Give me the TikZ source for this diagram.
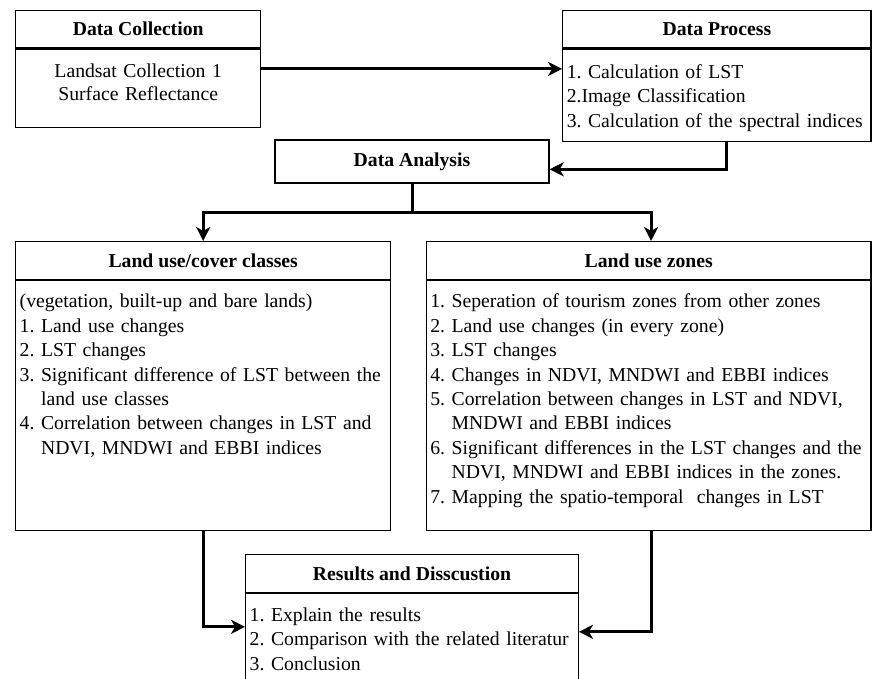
\documentclass[tikz,border=0pt]{standalone}
\usepackage{fontspec}
\setmainfont{Liberation Serif}
\usetikzlibrary{arrows.meta,positioning,calc}
\frenchspacing
\hyphenpenalty=10000

\tikzset{
    head/.style={draw, line width=1.3pt, font=\fontsize{19.7}{24}\selectfont\bfseries,
        minimum height=37.5pt, inner sep=0pt},
    body/.style={draw, line width=1.3pt, font=\fontsize{19.7}{24.4}\selectfont,
        align=left, inner xsep=4pt, inner ysep=0pt},
    arr/.style={line width=3pt, -{Stealth[length=14pt,width=14pt,inset=4pt]}}
}

\begin{document}
\begin{tikzpicture}[x=1pt,y=-1pt]
    \useasboundingbox (0,0) rectangle (872,678);
    \clip (0,0) rectangle (872,678);

    % Data Collection
    \node[head, minimum width=245] (dchead) at (138.2,28.9) {Data Collection};
    \node[body, text width=237pt, align=center, text height=29pt, text depth=49.3pt,
        font=\fontsize{19.7}{23}\selectfont, below=0pt of dchead] (dc) {Landsat Collection 1\\Surface Reflectance};

    % Data Process
    \node[head, minimum width=308.3] (dphead) at (716.9,28.9) {Data Process};
    \node[body, text width=300.3pt, text height=29.3pt, text depth=63pt,
        below=0pt of dphead] (dp) {1. Calculation of LST\\2.Image Classification\\3. Calculation of the spectral indices};

    % Data Analysis
    \node[head, minimum width=274, minimum height=43] (da) at (412,161.5) {Data Analysis};

    % Land use/cover classes
    \node[head, minimum width=375] (luchead) at (203.2,260.4) {Land use/cover classes};
    \node[body, text width=367pt, text height=27.5pt, text depth=222.8pt,
        below=0pt of luchead] (luc) {(vegetation, built-up and bare lands)\\
        1. Land use changes\\
        2. LST changes\\
        3. Significant difference of LST between the\\
        \hphantom{3. }land use classes\\
        4. Correlation between changes in LST and\\
        \hphantom{4. }NDVI, MNDWI and EBBI indices};

    % Land use zones
    \node[head, minimum width=444.7] (luzhead) at (648.7,260.4) {Land use zones};
    \node[body, text width=436.7pt, text height=27.5pt, text depth=222.8pt,
        below=0pt of luzhead] (luz) {1. Seperation of tourism zones from other zones\\
        2. Land use changes (in every zone)\\
        3. LST changes\\
        4. Changes in NDVI, MNDWI and EBBI indices\\
        5. Correlation between changes in LST and NDVI,\\
        \hphantom{5. }MNDWI and EBBI indices\\
        6. Significant differences in the LST changes and the\\
        \hphantom{6. }NDVI, MNDWI and EBBI indices in the zones.\\
        7. Mapping the spatio-temporal\ \ changes in LST};

    % Results and Disscustion
    \node[head, minimum width=332.6] (rdhead) at (412,573.4) {Results and Disscustion};
    \node[body, text width=324.6pt, text height=28.1pt, text depth=80.2pt,
        below=0pt of rdhead] (rd) {1. Explain the results\\
        2. Comparison with the related literatur\\
        3. Conclusion};

    % Arrows
    \coordinate (dcout) at ([yshift=-20.6pt]dc.north east);
    \draw[arr] (dcout) -- (dcout -| dp.west);
    \draw[arr] ([xshift=9.1pt]dp.south) |- ([yshift=-7.8pt]da.east);
    \draw[arr] (da.south) |- ($(da.south)!.5!(luchead.north)$) -| (luchead.north);
    \draw[arr] (da.south) |- ($(da.south)!.5!(luzhead.north)$) -| ([xshift=2.4pt]luzhead.north);
    \draw[arr] (luc.south) |- ([yshift=-34pt]rd.north west);
    \draw[arr] ([xshift=2.4pt]luz.south) |- ([yshift=-39pt]rd.north east);
\end{tikzpicture}
\end{document}
